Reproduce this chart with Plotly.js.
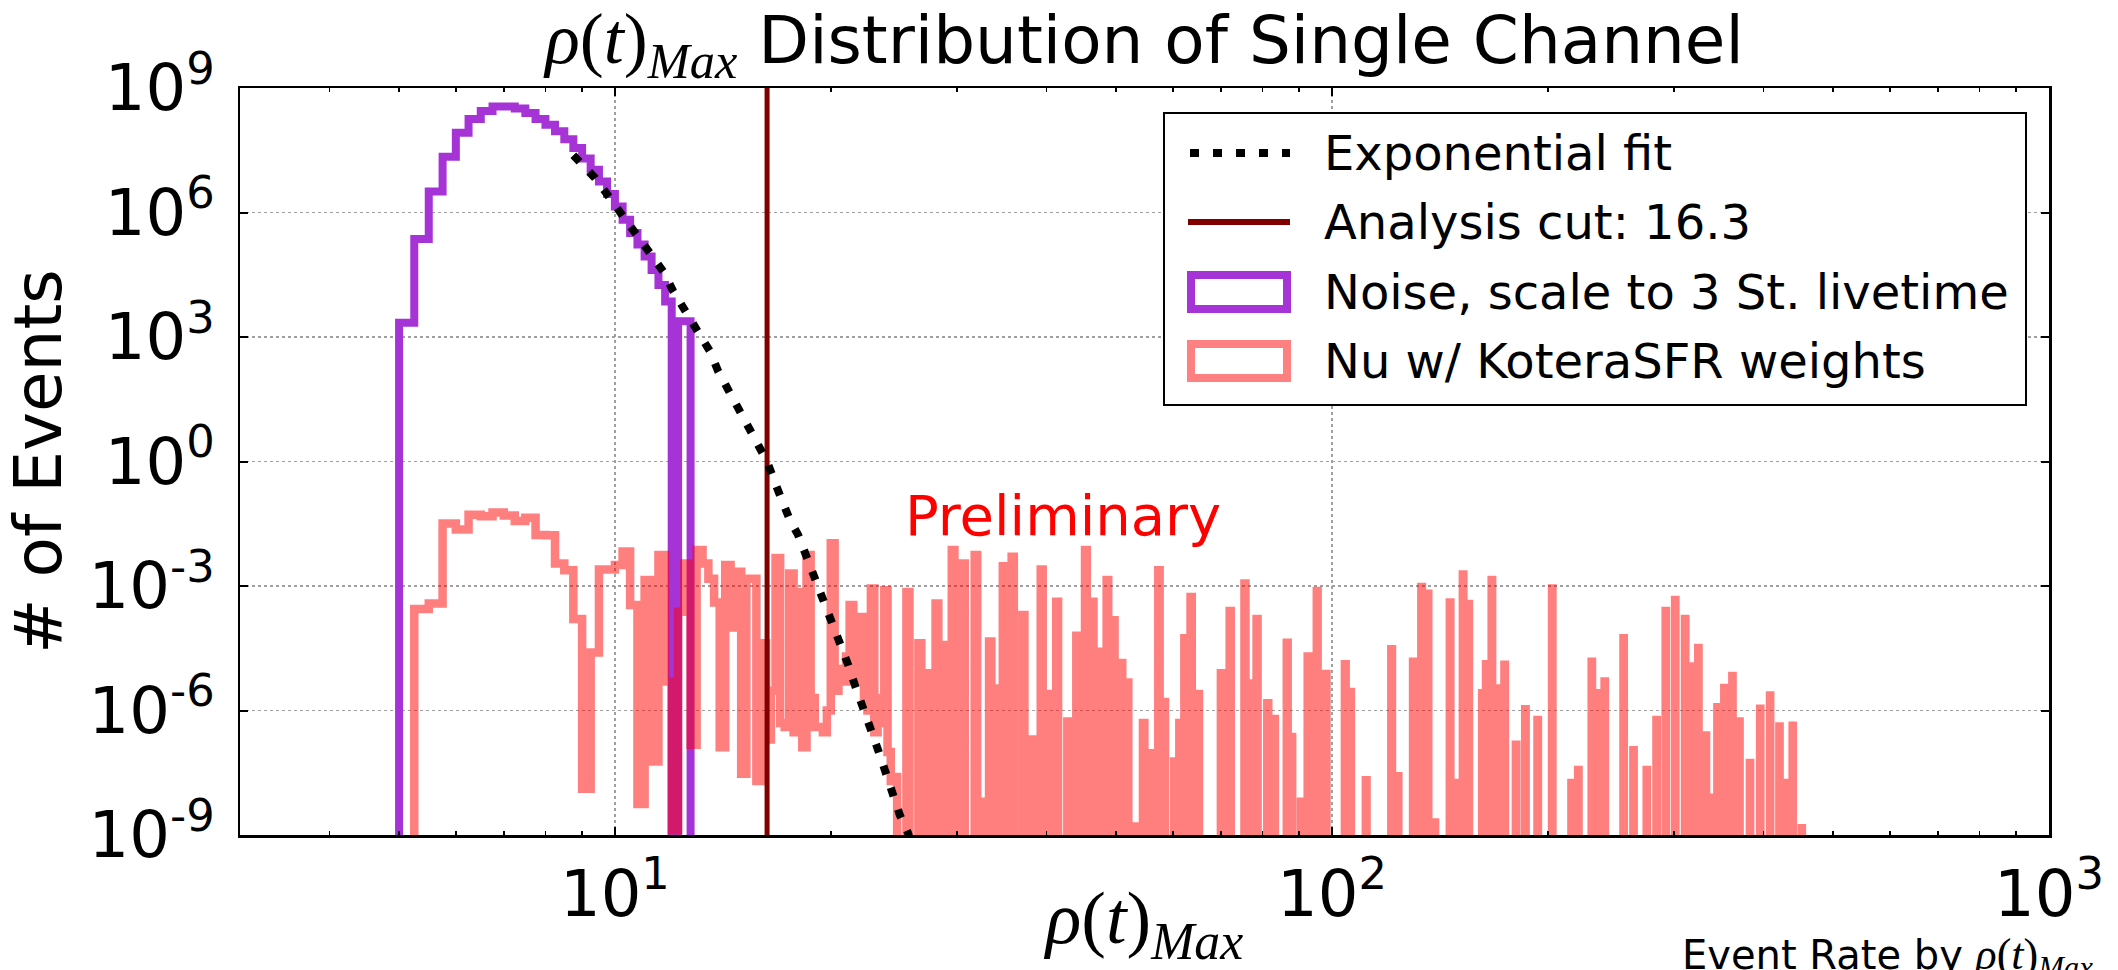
<!DOCTYPE html>
<html>
<head>
<meta charset="utf-8">
<script src="https://cdn.plot.ly/plotly-3.0.1.min.js"></script>
<style>
  html, body { margin: 0; padding: 0; background: #ffffff; }
  #chart { width: 2118px; height: 970px; }
</style>
</head>
<body>
<div id="chart"></div>
<script>
// ---------------- data ----------------
const binWidth = 0.25;            // linear histogram bins in rho(t)_Max
const cutValue = 16.3;            // analysis cut

// Noise histogram, scaled to 3 station livetime (bin left edges, counts)
const noiseBinLeft = [5.0, 5.25, 5.5, 5.75, 6.0, 6.25, 6.5, 6.75, 7.0, 7.25, 7.5, 7.75,
  8.0, 8.25, 8.5, 8.75, 9.0, 9.25, 9.5, 9.75, 10.0, 10.25, 10.5, 10.75, 11.0, 11.25,
  11.5, 11.75, 12.0, 12.25, 12.5];
const noiseCounts = [2.2e3, 2.3e5, 3.2e6, 2.2e7, 8.3e7, 1.8e8, 2.8e8, 3.6e8, 3.6e8, 3.2e8,
  2.5e8, 1.8e8, 1.3e8, 9.1e7, 5.8e7, 3.6e7, 2.0e7, 1.07e7, 5.6e6, 2.8e6, 1.4e6, 6.7e5,
  3.2e5, 1.7e5, 8.7e4, 4.1e4, 1.8e4, 7.2e3, 0, 2.4e3, 2.4e3];

// Nu with KoteraSFR weights: non-empty bins only (bin left edges, weighted counts)
const nuBinLeft = [5.25, 5.5, 5.75, 6.0, 6.25, 6.5, 6.75, 7.0, 7.25, 7.5, 7.75, 8.0, 8.25,
  8.5, 8.75, 9.0, 9.25, 9.5, 9.75, 10.0, 10.25, 10.5, 10.75, 11.0, 11.25, 11.5, 11.75, 12.0,
  12.25, 12.5, 12.75, 13.0, 13.25, 13.5, 13.75, 14.0, 14.25, 14.5,
  14.75, 15.0, 15.25, 15.5, 15.75, 16.0, 16.25, 16.5, 16.75, 17.0, 17.25, 17.5, 17.75,
  18.0, 18.25, 18.5, 18.75, 19.0, 19.25, 19.5, 19.75, 20.0, 20.25, 20.5, 20.75, 21.0,
  21.25, 21.5, 21.75, 22.0, 22.25, 22.5, 22.75, 23.0, 23.25, 23.5, 23.75, 24.0, 24.25,
  24.5,
  25.5, 26.5, 27.25, 28.0, 28.75, 29.5, 30.5, 31.75, 32.5, 33.25, 34.0, 34.75, 35.75, 37.0, 38.0,
  39.25, 40.0, 41.25, 42.75, 44.0, 45.25, 46.25, 47.0, 48.5, 49.5, 50.75, 51.75, 53.0, 54.5,
  55.75, 57.25, 58.25, 60.25, 61.25, 62.25, 63.5, 65.0, 70.0, 72.0, 75.5, 77.0, 78.5, 81.25,
  83.0, 86.5, 87.75, 90.5, 92.5, 95.25, 98.0, 104.25, 106.0, 111.5, 121.0, 123.5, 129.75,
  133.25, 136.0, 139.0, 146.0, 149.0, 152.25, 155.0, 162.0, 164.0, 167.0, 170.0, 174.0, 180.5,
  186.0, 193.5, 202.75, 215.75, 220.5, 230.25, 235.0, 240.0, 255.0, 263.25, 274.75, 283.5,
  292.0, 301.0, 310.75, 317.5, 324.25, 332.25, 338.5, 344.75, 352.5, 361.75, 370.0, 382.75,
  395.5, 408.25, 420.75, 428.25, 439.0, 452.0];
const nuCounts = [2.8e-4, 3.8e-4, 3.2e-2, 2.3e-2, 5.2e-2, 4.8e-2, 5.9e-2, 5.0e-2, 3.7e-2,
  4.4e-2, 1.7e-2, 1.66e-2, 3.5e-3, 2.4e-3, 1.6e-4, 1.3e-8, 2.5e-5, 2.5e-3, 2.5e-3, 3.2e-3,
  6.8e-3, 3.5e-4, 5.6e-9, 1.4e-3, 5.9e-8, 5.6e-3, 5.0e-6, 1.3e-9, 2.4e-4, 3.5e-3, 1.5e-7,
  7.4e-3, 3.5e-3, 1.5e-3, 4.0e-4, 1.3e-7, 3.2e-3, 1.0e-4,
  2.2e-3, 3e-8, 1.5e-3, 1.5e-3, 2e-8, 4.2e-5, 2e-7, 3e-6, 4.7e-3, 5e-7, 4e-7, 2.0e-3, 3e-7,
  7.2e-4, 1.3e-7, 5.6e-3, 2e-6, 4e-7, 4.0e-7, 3e-7, 1e-6, 1.07e-2, 3e-6, 1.0e-5, 5e-6, 2e-5,
  3.5e-4, 5e-6, 1e-5, 1.8e-4, 2e-6, 1e-6, 8.7e-4, 3e-7, 2e-6, 5e-7, 7.9e-4, 1e-7, 2e-8,
  2.5e-8,
  7.2e-4, 4.2e-5, 7.9e-6, 3.8e-4, 3.8e-5, 7.4e-3, 3.5e-3, 5.6e-3, 6.3e-9, 4.6e-5, 3.4e-6,
  3.0e-3, 5.1e-3, 2.0e-4, 2.0e-7,
  2.5e-3, 2.5e-6, 4.2e-4, 5.4e-7, 6.3e-5, 7.4e-3, 4.2e-4, 2.6e-5, 1.4e-3, 1.5e-4, 1.4e-5,
  4.7e-6, 1.6e-9, 5.0e-7, 9.3e-8, 2.4e-3, 1.6e-6, 5.9e-8, 5.0e-7, 5.5e-5, 5.4e-4, 2.5e-6,
  7.9e-6, 2.5e-4, 1.15e-3, 4.5e-6, 1.6e-4, 1.5e-6, 6.2e-7, 4.3e-5, 2.3e-7, 6.3e-9, 2.0e-5,
  7.6e-4, 7.6e-6, 1.3e-5, 2.8e-6, 2.1e-8, 3.0e-5, 2.6e-8, 1.5e-5, 9.5e-4, 6.5e-4, 2.0e-9,
  4.0e-4, 1.8e-8, 1.9e-3, 3.7e-4, 2.6e-6, 1.3e-5, 1.4e-3, 3.4e-6, 1.26e-5, 1.5e-7, 1.07e-6,
  5.9e-7, 8.7e-4, 1.8e-8, 3.7e-8, 1.5e-5, 2.6e-6, 5.0e-6, 5.5e-5, 1.1e-7, 3.7e-8, 5.9e-7,
  2.5e-4, 4.6e-4, 1.6e-4, 1.15e-5, 3.2e-5, 2.5e-7, 7.9e-9, 1.2e-6, 3.5e-6, 6.8e-6, 5.4e-7,
  5.4e-8, 1.1e-6, 2.3e-6, 4.1e-7, 1.8e-8, 4.3e-7, 1.45e-9];

// Exponential fit curve
const fitX = [8.75, 8.91, 9.38, 9.79, 10.27, 10.72, 11.19, 11.68, 12.06, 12.56, 13.07, 13.57,
  13.93, 14.5, 15.0, 15.5, 15.95, 16.3, 16.8, 17.54, 18.01, 18.5, 19.0, 19.52, 20.12, 20.6,
  21.15, 21.61, 22.2, 22.73, 23.29, 23.79, 24.39, 24.97, 25.64, 26.0];
const fitY = [2.4e7, 1.7e7, 6.8e6, 2.5e6, 8.1e5, 3.0e5, 1.05e5, 3.8e4, 1.26e4, 4.2e3, 1.4e3,
  4.5e2, 1.5e2, 45, 14, 5.0, 2.0, 1.0, 0.25, 3.9e-2, 1.7e-2, 5.1e-3, 1.5e-3, 4.6e-4, 1.4e-4,
  4.2e-5, 1.26e-5, 4.1e-6, 1.23e-6, 4.1e-7, 1.1e-7, 3.7e-8, 1.0e-8, 3.0e-9, 1.1e-9, 5.0e-10];

// Axis ticks and labels
const xRange = [3, 1000];
const yRange = [1e-9, 1e9];
const xTickVals = [10, 100, 1000];
const xTickText = ['10<sup>1</sup>', '10<sup>2</sup>', '10<sup>3</sup>'];
const xMinorTickVals = [4, 5, 6, 7, 8, 9, 20, 30, 40, 50, 60, 70, 80, 90, 200, 300, 400, 500, 600, 700, 800, 900];
const yTickVals = [1e-9, 1e-6, 1e-3, 1, 1e3, 1e6, 1e9];
const yTickText = ['10<sup>-9</sup>', '10<sup>-6</sup>', '10<sup>-3</sup>', '10<sup>0</sup>',
  '10<sup>3</sup>', '10<sup>6</sup>', '10<sup>9</sup>'];

const legendLabels = ['Exponential fit', 'Analysis cut: 16.3',
  'Noise, scale to 3 St. livetime', 'Nu w/ KoteraSFR weights'];

// ---------------- helpers ----------------
const RHO = '<i>ρ</i>(<i>t</i>)<sub><i>Max</i></sub>';
const FLOOR = 1e-12;   // empty bins are drawn down past the bottom of the log axis (clipped)

// outline of a step histogram (straight segments)
function stepOutline(lefts, counts, w) {
  const xs = [], ys = [];
  let prevRight = null;
  for (let i = 0; i < lefts.length; i++) {
    const c = counts[i];
    if (!(c > 0)) continue;
    const L = lefts[i], R = L + w;
    if (prevRight === null || Math.abs(L - prevRight) > 1e-9) {
      if (prevRight !== null) { xs.push(prevRight); ys.push(FLOOR); }
      xs.push(L); ys.push(FLOOR);
    }
    xs.push(L, R); ys.push(c, c);
    prevRight = R;
  }
  if (prevRight !== null) { xs.push(prevRight); ys.push(FLOOR); }
  return { xs, ys };
}

const noiseStep = stepOutline(noiseBinLeft, noiseCounts, binWidth);
const nuStep = stepOutline(nuBinLeft, nuCounts, binWidth);

const PURPLE = '#A633D6';
const NU_COLOR = 'rgba(255,0,0,0.5)';
const NU_LEGEND = '#FF8080';
const CUT_COLOR = '#800000';
const FIT_DASH = '9px,14px';

const traces = [
  { type: 'scatter', mode: 'lines', x: noiseStep.xs, y: noiseStep.ys, name: legendLabels[2],
    line: { color: PURPLE, width: 8, simplify: false }, hoverinfo: 'skip', showlegend: false },
  { type: 'scatter', mode: 'lines', x: nuStep.xs, y: nuStep.ys, name: legendLabels[3],
    line: { color: NU_COLOR, width: 8.5, simplify: false }, hoverinfo: 'skip', showlegend: false },
  { type: 'scatter', mode: 'lines', x: [cutValue, cutValue], y: yRange, name: legendLabels[1],
    line: { color: CUT_COLOR, width: 5 }, hoverinfo: 'skip', showlegend: false },
  { type: 'scatter', mode: 'lines', x: fitX, y: fitY, name: legendLabels[0],
    line: { color: '#000000', width: 8, dash: FIT_DASH }, hoverinfo: 'skip', showlegend: false }
];

// ---------------- layout ----------------
const W = 2118, H = 970;
const plotL = 240, plotR = 2049, plotT = 88, plotB = 835;
const xP = px => (px - plotL) / (plotR - plotL);
const yP = py => (plotB - py) / (plotB - plotT);

// hand-drawn legend box (matplotlib style patches)
const legRows = [153, 222, 292, 361];
const shapes = [
  { type: 'rect', xref: 'paper', yref: 'paper', x0: xP(1164), x1: xP(2026), y0: yP(405), y1: yP(113),
    line: { color: '#000', width: 2 }, fillcolor: '#ffffff', layer: 'above' },
  { type: 'line', xref: 'paper', yref: 'paper', x0: xP(1190), x1: xP(1290), y0: yP(legRows[0]), y1: yP(legRows[0]),
    line: { color: '#000', width: 8, dash: FIT_DASH }, layer: 'above' },
  { type: 'line', xref: 'paper', yref: 'paper', x0: xP(1188), x1: xP(1290), y0: yP(legRows[1]), y1: yP(legRows[1]),
    line: { color: CUT_COLOR, width: 6 }, layer: 'above' },
  { type: 'rect', xref: 'paper', yref: 'paper', x0: xP(1191), x1: xP(1287), y0: yP(legRows[2] + 17), y1: yP(legRows[2] - 17),
    line: { color: PURPLE, width: 8 }, fillcolor: '#ffffff', layer: 'above' },
  { type: 'rect', xref: 'paper', yref: 'paper', x0: xP(1191), x1: xP(1287), y0: yP(legRows[3] + 17), y1: yP(legRows[3] - 17),
    line: { color: NU_LEGEND, width: 8 }, fillcolor: '#ffffff', layer: 'above' }
];

const annotations = legendLabels.map((t, i) => ({
  text: t, xref: 'paper', yref: 'paper', x: xP(1322), y: yP(legRows[i]),
  xanchor: 'left', yanchor: 'middle', showarrow: false, font: { size: 48, color: '#000' }
}));
annotations.push({
  text: 'Preliminary', xref: 'paper', yref: 'paper', x: xP(903), y: yP(515),
  xanchor: 'left', yanchor: 'middle', showarrow: false, font: { size: 56, color: '#FF0000' }
});
annotations.push({
  text: 'Event Rate by <span style="font-family:Liberation Serif;font-size:44px">' + RHO + '</span>',
  xref: 'paper', yref: 'paper', x: xP(1680), y: yP(957),
  xanchor: 'left', yanchor: 'middle', showarrow: false, font: { size: 40, color: '#000' }
});

const axisCommon = {
  type: 'log', ticks: 'inside', ticklen: 8, tickwidth: 2, tickcolor: '#000',
  showline: true, linecolor: '#000', linewidth: 2.5, mirror: 'allticks',
  showgrid: true, gridcolor: '#a0a0a0', gridwidth: 1.5, griddash: '3px,3px',
  zeroline: false, automargin: false, tickfont: { size: 64, color: '#000' }
};

const layout = {
  width: W, height: H,
  margin: { l: plotL, r: W - plotR, t: plotT, b: H - plotB, pad: 0 },
  paper_bgcolor: '#ffffff', plot_bgcolor: '#ffffff',
  showlegend: false,
  font: { family: 'DejaVu Sans', color: '#000' },
  title: {
    text: '<span style="font-family:Liberation Serif;font-size:72px">' + RHO + '</span> Distribution of Single Channel',
    font: { size: 66, color: '#000' },
    xref: 'paper', x: 0.5, xanchor: 'center',
    yref: 'container', y: 1 - 40 / H, yanchor: 'middle'
  },
  xaxis: Object.assign({}, axisCommon, {
    range: [Math.log10(xRange[0]), Math.log10(xRange[1])],
    tickmode: 'array', tickvals: xTickVals, ticktext: xTickText,
    ticklabelstandoff: 2,
    minor: { tickvals: xMinorTickVals, ticks: 'inside', ticklen: 4, tickwidth: 1.5, tickcolor: '#000', showgrid: false },
    title: { text: RHO, font: { family: 'Liberation Serif', size: 74, color: '#000' }, standoff: 10 }
  }),
  yaxis: Object.assign({}, axisCommon, {
    range: [Math.log10(yRange[0]), Math.log10(yRange[1])],
    tickmode: 'array', tickvals: yTickVals, ticktext: yTickText,
    ticklabelstandoff: 10,
    title: { text: '# of Events', font: { size: 66, color: '#000' }, standoff: 22 }
  }),
  shapes: shapes,
  annotations: annotations
};

Plotly.newPlot('chart', traces, layout, { staticPlot: true, displayModeBar: false });
</script>
</body>
</html>
